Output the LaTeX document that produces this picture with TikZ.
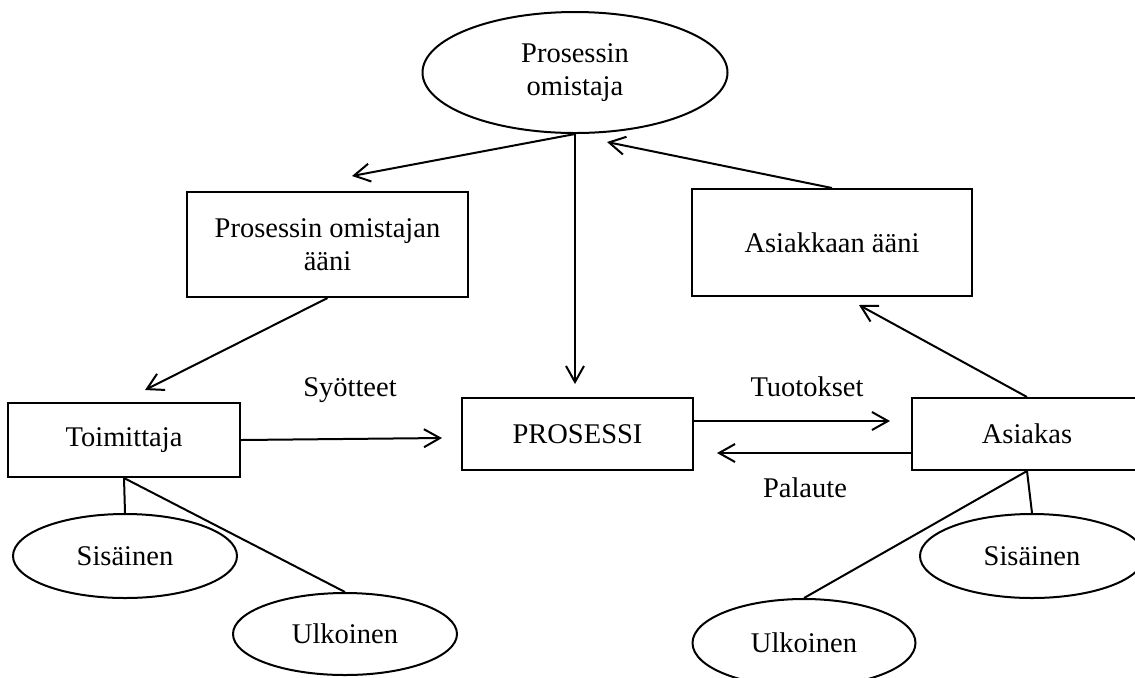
\documentclass[tikz,border=0pt]{standalone}
\usepackage{fontspec}
\setmainfont{Liberation Serif}
\usetikzlibrary{shapes.geometric,arrows.meta,calc}
\begin{document}
\begin{tikzpicture}[x=0.5pt,y=-0.5pt,
  font=\fontsize{14.25}{16.5}\selectfont,
  line width=1pt,
  boxnode/.style={draw,rectangle,inner sep=0pt,align=center},
  ellnode/.style={draw,ellipse,inner sep=0pt,align=center},
  lbl/.style={inner sep=0pt},
  arr/.style={-{Straight Barb[length=8pt,width=9pt,line width=1pt]}}]
\clip (0,0) rectangle (1135,677);
\useasboundingbox (0,0) rectangle (1135,677);
% nodes
\node[ellnode,minimum width=152.5pt,minimum height=60.5pt] (own) at (575,72.5) {Prosessin\\omistaja};
\node[boxnode,minimum width=140.5pt,minimum height=52.5pt] (poa) at (327.5,244.5) {Prosessin omistajan\\ääni};
\node[boxnode,minimum width=140pt,minimum height=53.5pt] (aa) at (832,242.5) {Asiakkaan ääni};
\node[boxnode,minimum width=116pt,minimum height=37pt] (toim) at (124,440) {Toimittaja};
\node[boxnode,minimum width=115.5pt,minimum height=36pt] (proc) at (577.5,434) {PROSESSI};
\node[boxnode,minimum width=115pt,minimum height=36pt] (asi) at (1027,434) {Asiakas};
\node[ellnode,minimum width=112pt,minimum height=42pt] (sis1) at (125,556) {Sisäinen};
\node[ellnode,minimum width=112pt,minimum height=41pt] (ulk1) at (345,634) {Ulkoinen};
\node[ellnode,minimum width=112pt,minimum height=42pt] (sis2) at (1032,556) {Sisäinen};
\node[ellnode,minimum width=111.5pt,minimum height=44pt] (ulk2) at (804,643) {Ulkoinen};
% labels
\node[lbl] (l1) at (350,390) {Syötteet};
\node[lbl] (l2) at (807,387) {Tuotokset};
\node[lbl] (l3) at (805,488) {Palaute};
% free ends
\coordinate (e1) at (352,176);
\coordinate (e2) at (575,384);
\coordinate (e3) at (607,142);
\coordinate (e4) at (145,390);
\coordinate (e5) at (442,438);
\coordinate (e6) at (890,421);
\coordinate (e7) at (717,453);
\coordinate (e8) at (859,305);
% connectors
\draw[arr] (own.south) -- (e1);
\draw[arr] (own.south) -- (e2);
\draw[arr] (aa.north) -- (e3);
\draw[arr] (poa.south) -- (e4);
\draw[arr] (toim.east) -- (e5);
\draw[arr] ($(proc.east)+(0,-13)$) -- (e6);
\draw[arr] ($(asi.west)+(0,19)$) -- (e7);
\draw[arr] (asi.north) -- (e8);
\draw (toim.south) -- (sis1.north);
\draw (toim.south) -- (ulk1.north);
\draw (asi.south) -- (sis2.north);
\draw (asi.south) -- (ulk2.north);
\end{tikzpicture}
\end{document}
